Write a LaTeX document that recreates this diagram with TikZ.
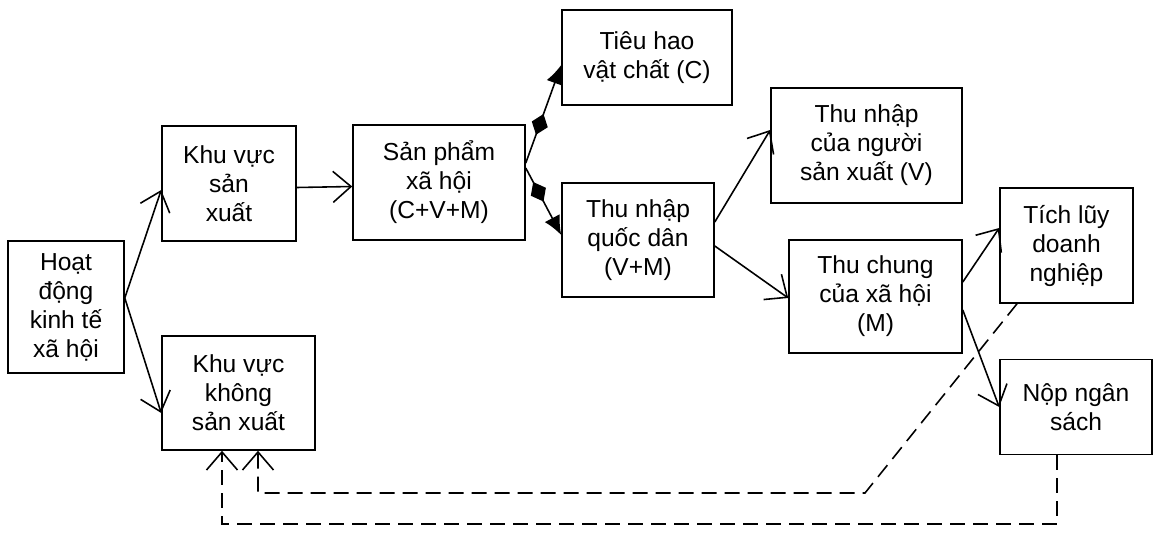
\documentclass[tikz,border=0pt]{standalone}
\usepackage{fontspec}
\setmainfont{Liberation Sans}
\usepackage{tikz}
\usetikzlibrary{arrows.meta,decorations.markings}

\begin{document}
\begin{tikzpicture}[x=1cm,y=1cm,font=\fontsize{14}{16.5}\selectfont,
 box/.style={draw,line width=.9pt,align=center,inner sep=0pt},
 ar/.style={-{Straight Barb[length=3.6mm,width=6.2mm,line width=.9pt]},line width=.9pt},
 dar/.style={ar,dash pattern=on 3mm off 1.6mm},
 far/.style={-{Latex[length=3.8mm,width=3.4mm]},line width=.9pt,
  postaction={decorate},decoration={markings,
  mark=at position .5 with {\arrow{Diamond[length=4.4mm,width=3.4mm]}}}}]
\useasboundingbox (0,0) rectangle (23.08,10.64);
% boxes
\node[box,minimum width=2.32cm,minimum height=2.64cm] (hoat) at (1.32,4.5) {Hoạt\\động\\kinh tế\\xã hội};
\node[box,minimum width=2.68cm,minimum height=2.3cm] (kvsx) at (4.58,6.97) {Khu vực\\sản\\xuất};
\node[box,minimum width=3.06cm,minimum height=2.28cm] (kvksx) at (4.77,2.78) {Khu vực\\không\\sản xuất};
\node[box,minimum width=3.44cm,minimum height=2.3cm] (sp) at (8.78,6.99) {Sản phẩm\\xã hội\\(C+V+M)};
\node[box,minimum width=3.4cm,minimum height=1.9cm] (tieu) at (12.94,9.49) {Tiêu hao\\vật chất (C)};
\node[box,minimum width=3.04cm,minimum height=2.28cm] (tnqd) at (12.76,5.84) {Thu nhập\\quốc dân\\(V+M)};
\node[box,minimum width=3.82cm,minimum height=2.3cm] (tnnsx) at (17.33,7.73) {Thu nhập\\của người\\sản xuất (V)};
\node[box,minimum width=3.46cm,minimum height=2.26cm] (thu) at (17.51,4.71) {Thu chung\\của xã hội\\(M)};
\node[box,minimum width=2.66cm,minimum height=2.3cm] (tich) at (21.33,5.73) {Tích lũy\\doanh\\nghiệp};
\node[box,minimum width=3.04cm,minimum height=1.9cm] (nop) at (21.52,2.5) {Nộp ngân\\sách};
% arrows
\draw[ar] ([yshift=.18cm]hoat.east) -- ([yshift=-.13cm]kvsx.west);
\draw[ar] ([yshift=.18cm]hoat.east) -- ([yshift=-.4cm]kvksx.west);
\draw[ar] ([yshift=-.08cm]kvsx.east) -- ([yshift=-.08cm]sp.west);
\draw[far] ([yshift=.39cm]sp.east) -- ([yshift=-.15cm]tieu.west);
\draw[far] ([yshift=.29cm]sp.east) -- ([yshift=.1cm]tnqd.west);
\draw[ar] ([yshift=.36cm]tnqd.east) -- ([yshift=.31cm]tnnsx.west);
\draw[ar] ([yshift=-.12cm]tnqd.east) -- ([yshift=-.03cm]thu.west);
\draw[ar] ([yshift=.29cm]thu.east) -- ([yshift=.35cm]tich.west);
\draw[ar] ([yshift=-.27cm]thu.east) -- (nop.west);
% dashed returns
\coordinate (bend) at (17.3,.78);
\coordinate (low) at (0,.16);
\draw[dar] ([xshift=-.99cm]tich.south) -- (bend) -| ([xshift=.39cm]kvksx.south);
\draw[dar] ([xshift=-.38cm]nop.south) |- ([xshift=-.33cm]kvksx.south |- low) -- ([xshift=-.33cm]kvksx.south);
\end{tikzpicture}
\end{document}
